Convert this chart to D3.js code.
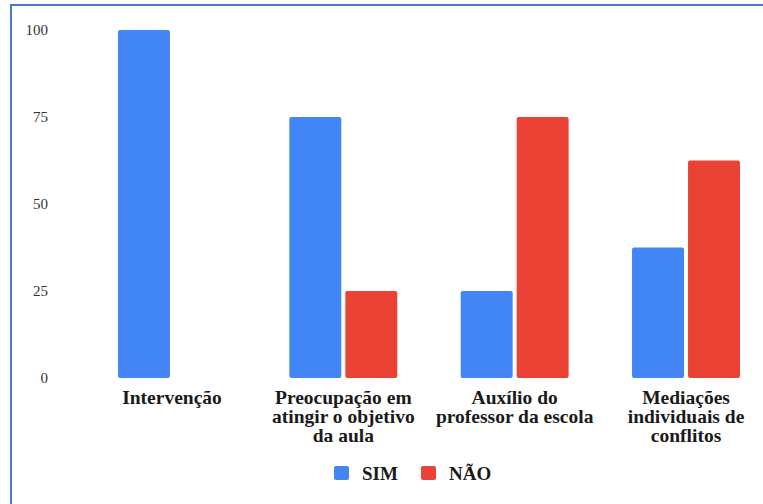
<!DOCTYPE html>
<html>
<head>
<meta charset="utf-8">
<script src="https://cdn.jsdelivr.net/npm/d3@7"></script>
<style>
    html, body { margin: 0; padding: 0; background: #fff; }
    svg { display: block; }
    svg text { font-family: "Liberation Serif", "Times New Roman", Times, serif; }
</style>
</head>
<body>
<div id="chart-container"></div>
<script>
// data
const categories = [
    ["Intervenção"],
    ["Preocupação em", "atingir o objetivo", "da aula"],
    ["Auxílio do", "professor da escola"],
    ["Mediações", "individuais de", "conflitos"]
];
const series = ["SIM", "NÃO"];
const simValues = [100, 75, 25, 37.5];
const naoValues = [0, 25, 75, 62.5];
const yTicks = [0, 25, 50, 75, 100];
const colors = ["#4285F4", "#EA4335"];

const w = 763;
const h = 504;

const svg = d3.select('#chart-container')
    .append('svg')
    .attr('width', w)
    .attr('height', h);

// frame of the picture
svg.append('rect')
    .attr('x', 11)
    .attr('y', 5)
    .attr('width', 800)
    .attr('height', 600)
    .attr('fill', 'none')
    .attr('stroke', '#4a78cf')
    .attr('stroke-width', 2);

const keys = categories.map((c, i) => i);
const rows = keys.map(i => ({ key: i, values: [simValues[i], naoValues[i]] }));

const x0 = d3.scaleBand()
    .domain(keys)
    .range([118, 740])
    .paddingInner(0.37)
    .paddingOuter(0);

const x1 = d3.scaleBand()
    .domain(series)
    .range([0, x0.bandwidth()])
    .paddingInner(0.072);

const y = d3.scaleLinear()
    .domain([0, 100])
    .range([378, 30]);

// y axis, labels only
const yAxis = d3.axisLeft(y).tickValues(yTicks).tickSize(0).tickPadding(0);
const gy = svg.append('g')
    .attr('transform', 'translate(48,0)')
    .call(yAxis);
gy.select('.domain').remove();
gy.attr('font-family', null);
gy.selectAll('text')
    .attr('font-size', 15)
    .attr('fill', '#333');

// bars
const group = svg.selectAll('.group')
    .data(rows)
    .enter()
    .append('g')
    .attr('class', 'group')
    .attr('transform', d => 'translate(' + x0(d.key) + ',0)');

group.selectAll('rect')
    .data(d => d.values.map((v, j) => ({ s: series[j], v: v, j: j })).filter(b => b.v > 0))
    .enter()
    .append('rect')
    .attr('x', b => x1(b.s))
    .attr('y', b => y(b.v))
    .attr('width', x1.bandwidth())
    .attr('height', b => y(0) - y(b.v))
    .attr('rx', 2)
    .attr('fill', b => colors[b.j]);

// category labels
const lab = svg.selectAll('.cat')
    .data(rows)
    .enter()
    .append('text')
    .attr('class', 'cat')
    .attr('x', d => x0(d.key) + x0.bandwidth() / 2)
    .attr('y', 404)
    .attr('text-anchor', 'middle')
    .attr('font-weight', 'bold')
    .attr('font-size', 19.5)
    .attr('fill', '#1a1a1a');

lab.selectAll('tspan')
    .data(d => categories[d.key])
    .enter()
    .append('tspan')
    .attr('x', function () { return d3.select(this.parentNode).attr('x'); })
    .attr('dy', (d, i) => i === 0 ? 0 : 19)
    .text(d => d);

// legend
const legendX = [334, 421];
const legend = svg.selectAll('.legend')
    .data(series)
    .enter()
    .append('g')
    .attr('class', 'legend')
    .attr('transform', (d, i) => 'translate(' + legendX[i] + ',466)');

legend.append('rect')
    .attr('width', 15)
    .attr('height', 14)
    .attr('rx', 2)
    .attr('fill', (d, i) => colors[i]);

legend.append('text')
    .attr('x', 28)
    .attr('y', 14)
    .attr('font-weight', 'bold')
    .attr('font-size', 19)
    .attr('fill', '#1a1a1a')
    .text(d => d);
</script>
</body>
</html>
